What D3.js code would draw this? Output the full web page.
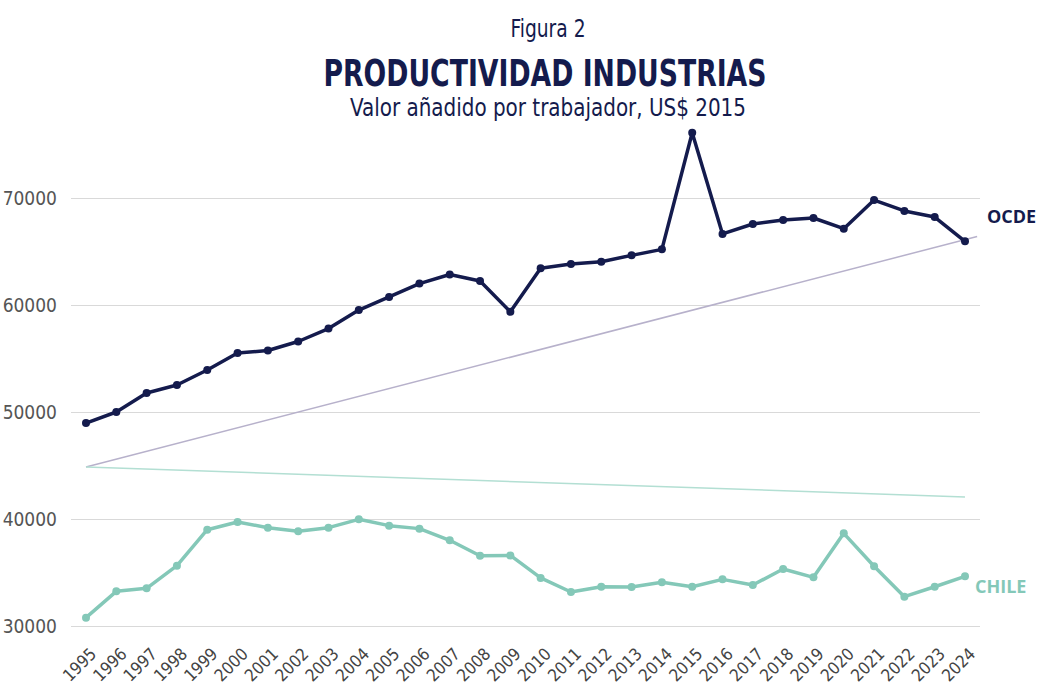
<!DOCTYPE html>
<html style="width:100%; height:100%">
    <head>
        <meta charset="utf-8">
        <script src="https://d3js.org/d3.v7.min.js"></script>
        <style>
            body { margin:0; background:#fff; }
            .cond { font-family: "Liberation Sans Narrow", "DejaVu Sans Condensed", Roboto, sans-serif; }
        </style>
    </head>
    <body>
        <svg id="chart" width="1041" height="695"></svg>
        <script>
            // years and series
            var years = d3.range(1995, 2025);
            var ocde = [48970, 50000, 51780, 52520, 53930, 55510, 55750, 56590, 57800, 59530,
                        60750, 62000, 62850, 62240, 59370, 63430, 63830, 64050, 64640, 65200,
                        76100, 66640, 67570, 67940, 68130, 67130, 69810, 68790, 68220, 65950];
            var chile = [30780, 33240, 33520, 35640, 39000, 39720, 39190, 38850, 39190, 39970,
                         39380, 39100, 38010, 36570, 36600, 34490, 33180, 33670, 33640, 34080,
                         33670, 34360, 33830, 35330, 34550, 38660, 35580, 32740, 33670, 34640];
            // trend lines: [start, end] year and value
            var ocdeTrendYears = [1995, 2024.4];
            var ocdeTrend = [44860, 66400];
            var chileTrendYears = [1995, 2024];
            var chileTrend = [44860, 42060];
            var yTicks = [30000, 40000, 50000, 60000, 70000];

            var navy = "#141b4d", teal = "#84c8b8";
            var svg = d3.select("#chart");

            var x = d3.scaleLinear().domain([1995, 2024]).range([86, 965]);
            var y = d3.scaleLinear().domain([30000, 70000]).range([626, 198]);

            // titles
            svg.append("text").attr("class", "cond").attr("x", 548).attr("y", 37)
                .attr("text-anchor", "middle").attr("font-size", 24).attr("fill", navy)
                .attr("textLength", 75).attr("lengthAdjust", "spacingAndGlyphs")
                .text("Figura 2");
            svg.append("text").attr("class", "cond").attr("x", 545).attr("y", 86)
                .attr("text-anchor", "middle").attr("font-size", 37).attr("font-weight", "bold")
                .attr("fill", navy).attr("textLength", 443).attr("lengthAdjust", "spacingAndGlyphs")
                .text("PRODUCTIVIDAD INDUSTRIAS");
            svg.append("text").attr("class", "cond").attr("x", 548).attr("y", 116)
                .attr("text-anchor", "middle").attr("font-size", 24).attr("fill", navy)
                .attr("textLength", 396).attr("lengthAdjust", "spacingAndGlyphs")
                .text("Valor añadido por trabajador, US$ 2015");

            // grid + y labels
            var yAxis = d3.axisLeft(y).tickValues(yTicks).tickSize(909).tickFormat(d3.format("d"));
            var gy = svg.append("g").attr("transform", "translate(980,0)").call(yAxis);
            gy.select(".domain").remove();
            gy.selectAll("line").attr("stroke", "#d9d9d9").attr("stroke-width", 1.2);
            gy.selectAll("text").attr("class", "cond").attr("x", -923).attr("font-size", 19)
                .attr("fill", "#555").attr("dy", "0.35em");

            // x labels
            var xAxis = d3.axisBottom(x).tickValues(years).tickSize(0).tickFormat(d3.format("d"));
            var gx = svg.append("g").attr("transform", "translate(0,640)").call(xAxis);
            gx.select(".domain").remove();
            gx.selectAll("text").attr("class", "cond").attr("font-size", 17).attr("fill", "#444")
                .attr("text-anchor", "end").attr("y", 0).attr("dy", 0)
                .attr("transform", "translate(11,15) rotate(-45)");

            // trend lines
            var tl = d3.line().x(function (d) { return x(d[0]); }).y(function (d) { return y(d[1]); });
            svg.append("path").datum(d3.zip(ocdeTrendYears, ocdeTrend)).attr("d", tl)
                .attr("fill", "none").attr("stroke", "#b7b1cb").attr("stroke-width", 1.5);
            svg.append("path").datum(d3.zip(chileTrendYears, chileTrend)).attr("d", tl)
                .attr("fill", "none").attr("stroke", "#b3dfd3").attr("stroke-width", 1.5);

            // series
            function drawSeries(vals, color, w) {
                var pts = d3.zip(years, vals);
                svg.append("path").datum(pts).attr("d", tl)
                    .attr("fill", "none").attr("stroke", color).attr("stroke-width", w)
                    .attr("stroke-linejoin", "round");
                svg.append("g").selectAll("circle").data(pts).enter().append("circle")
                    .attr("cx", function (d) { return x(d[0]); })
                    .attr("cy", function (d) { return y(d[1]); })
                    .attr("r", 4).attr("fill", color);
            }
            drawSeries(chile, teal, 3.5);
            drawSeries(ocde, navy, 3.5);

            // series labels
            svg.append("text").attr("x", 987).attr("y", 223).attr("font-family", "'Open Sans', sans-serif")
                .attr("font-weight", "bold").attr("font-size", 18).attr("fill", navy).text("OCDE");
            svg.append("text").attr("x", 975).attr("y", 593).attr("font-family", "'Open Sans', sans-serif")
                .attr("font-weight", "bold").attr("font-size", 18).attr("fill", teal).text("CHILE");
        </script>
    </body>
</html>
